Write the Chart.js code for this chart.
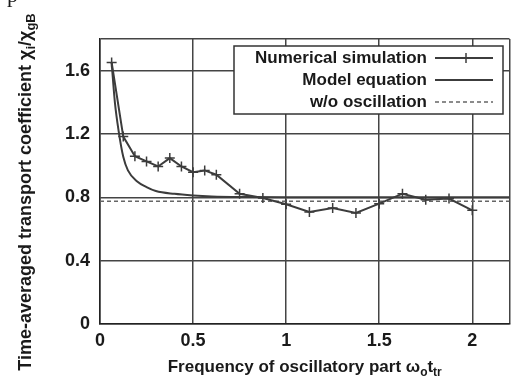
<!DOCTYPE html>
<html>
<head>
<meta charset="utf-8">
<script src="https://cdn.jsdelivr.net/npm/chart.js@4/dist/chart.umd.min.js"></script>
<style>
  html, body { margin: 0; padding: 0; background: #fff; }
  #wrap { width: 516px; height: 381px; position: relative; }
</style>
</head>
<body>
<div id="wrap"><canvas id="lineChart" width="516" height="381"></canvas></div>
<script>
// numerical simulation points
var simX = [0.0625, 0.125, 0.1875, 0.25, 0.3125, 0.375, 0.4375, 0.5, 0.5625, 0.625, 0.75, 0.875, 1.0, 1.125, 1.25, 1.375, 1.5, 1.625, 1.75, 1.875, 2.0];
var simY = [1.652, 1.184, 1.06, 1.027, 0.995, 1.048, 0.995, 0.959, 0.97, 0.943, 0.823, 0.796, 0.756, 0.707, 0.733, 0.701, 0.76, 0.823, 0.785, 0.792, 0.718];
// model equation curve
var modelX = [0.0625, 0.08, 0.1, 0.125, 0.15, 0.2, 0.25, 0.3, 0.4, 0.5, 0.6, 0.8, 1.0, 1.5, 2.2];
var modelY = [1.65, 1.4, 1.22, 1.056, 0.97, 0.9, 0.865, 0.84, 0.822, 0.812, 0.806, 0.802, 0.8, 0.8, 0.8];
// without oscillation level
var flatX = [0, 2.2];
var flatY = [0.775, 0.775];
var seriesLabels = ['Numerical simulation', 'Model equation', 'w/o oscillation'];
var xTicks = [0, 0.5, 1, 1.5, 2];
var yTicks = [0, 0.4, 0.8, 1.2, 1.6];

function pts(xs, ys) {
    return xs.map(function (x, i) { return {x: x, y: ys[i]}; });
}

var FONT = '"Liberation Sans", Arial, sans-serif';
var LINE = '#3c3c3c';

// text made of pieces, some of them subscripts
function richText(ctx, parts, size) {
    var w = 0;
    parts.forEach(function (p) {
        ctx.font = 'bold ' + (p.sub ? Math.round(size * 0.72) : size) + 'px ' + FONT;
        p.w = ctx.measureText(p.t).width;
        w += p.w;
    });
    return w;
}
function drawRich(ctx, parts, size, x, y) {
    parts.forEach(function (p) {
        ctx.font = 'bold ' + (p.sub ? Math.round(size * 0.72) : size) + 'px ' + FONT;
        ctx.fillText(p.t, x, y + (p.sub ? 4 : 0));
        x += p.w;
    });
}

var extras = {
    id: 'extras',
    afterDraw: function (chart) {
        var ctx = chart.ctx;
        var a = chart.chartArea;
        ctx.save();
        ctx.fillStyle = '#1a1a1a';
        ctx.textAlign = 'left';
        ctx.textBaseline = 'alphabetic';

        // x title
        var xParts = [{t: 'Frequency of oscillatory part ω'}, {t: 'o', sub: true}, {t: 't'}, {t: 'tr', sub: true}];
        var xw = richText(ctx, xParts, 17);
        drawRich(ctx, xParts, 17, (a.left + a.right) / 2 - xw / 2, 372);

        // y title
        var yParts = [{t: 'Time-averaged transport coefficient χ'}, {t: 'i', sub: true}, {t: '/χ'}, {t: 'gB', sub: true}];
        var yw = richText(ctx, yParts, 18);
        ctx.save();
        ctx.translate(31, 192);
        ctx.rotate(-Math.PI / 2);
        drawRich(ctx, yParts, 18, -yw / 2, 0);
        ctx.restore();

        // cropped glyph at the very top left
        ctx.font = '22px "Liberation Serif", serif';
        ctx.fillText('p', 7, 2);

        // legend box
        var bx = 234, by = 46, bw = 269, bh = 68;
        ctx.fillStyle = '#fff';
        ctx.fillRect(bx, by, bw, bh);
        ctx.strokeStyle = '#333';
        ctx.lineWidth = 1.5;
        ctx.strokeRect(bx, by, bw, bh);
        ctx.fillStyle = '#1a1a1a';
        ctx.textAlign = 'right';
        ctx.textBaseline = 'middle';
        ctx.font = 'bold 17px ' + FONT;
        var rows = [58, 80, 102];
        chart.data.datasets.forEach(function (ds, i) {
            var yy = rows[i];
            ctx.fillText(ds.label, 427, yy);
            ctx.beginPath();
            ctx.strokeStyle = ds.borderColor;
            ctx.lineWidth = ds.borderWidth;
            ctx.setLineDash(ds.borderDash || []);
            ctx.moveTo(435, yy);
            ctx.lineTo(493, yy);
            ctx.stroke();
            ctx.setLineDash([]);
            if (ds.pointRadius > 0) {
                ctx.beginPath();
                ctx.lineWidth = 1.5;
                ctx.moveTo(466, yy - 5);
                ctx.lineTo(466, yy + 5);
                ctx.stroke();
            }
        });
        ctx.restore();
    }
};

var myChart = new Chart(document.querySelector('#lineChart'), {
    type: 'line',
    data: {
        datasets: [{
            label: seriesLabels[0],
            data: pts(simX, simY),
            borderColor: LINE,
            borderWidth: 2,
            pointStyle: 'cross',
            pointRadius: 5,
            pointBorderWidth: 1.5,
            pointBorderColor: LINE,
            tension: 0
        }, {
            label: seriesLabels[1],
            data: pts(modelX, modelY),
            borderColor: LINE,
            borderWidth: 2,
            pointRadius: 0,
            cubicInterpolationMode: 'monotone'
        }, {
            label: seriesLabels[2],
            data: pts(flatX, flatY),
            borderColor: '#666',
            borderWidth: 1.5,
            borderDash: [4, 3],
            pointRadius: 0
        }]
    },
    options: {
        responsive: false,
        animation: false,
        layout: { padding: { top: 39, right: 2, left: 0, bottom: 0 } },
        plugins: { legend: { display: false }, tooltip: { enabled: false } },
        scales: {
            x: {
                type: 'linear',
                min: 0,
                max: 2.2,
                afterFit: function (s) { s.height = 57; },
                afterBuildTicks: function (s) {
                    s.ticks = xTicks.concat([2.2]).map(function (v) { return {value: v}; });
                },
                ticks: {
                    padding: 6,
                    maxRotation: 0,
                    color: '#1a1a1a',
                    font: { family: FONT, size: 18, weight: 'bold' },
                    callback: function (v) { return xTicks.indexOf(v) >= 0 ? String(v) : ''; }
                },
                grid: { color: '#444', lineWidth: 1.5, drawTicks: false },
                border: { color: '#222', width: 1.5 }
            },
            y: {
                min: 0,
                max: 1.8,
                afterFit: function (s) { s.width = 100; },
                afterBuildTicks: function (s) {
                    s.ticks = yTicks.concat([1.8]).map(function (v) { return {value: v}; });
                },
                ticks: {
                    padding: 10,
                    color: '#1a1a1a',
                    font: { family: FONT, size: 18, weight: 'bold' },
                    callback: function (v) { return yTicks.indexOf(v) >= 0 ? String(v) : ''; }
                },
                grid: { color: '#444', lineWidth: 1.5, drawTicks: false },
                border: { color: '#222', width: 1.5 }
            }
        }
    },
    plugins: [extras]
});
</script>
</body>
</html>
